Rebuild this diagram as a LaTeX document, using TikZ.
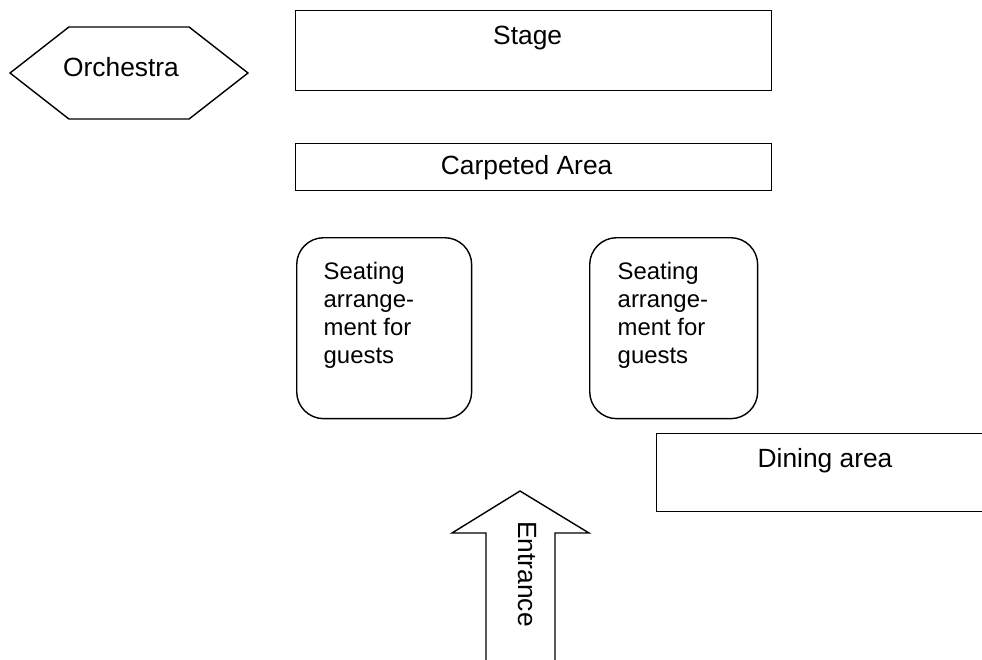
\documentclass[tikz,border=0pt]{standalone}
\usepackage{fontspec}
\setmainfont{Liberation Sans}
\usetikzlibrary{calc,positioning,shapes.symbols}

\begin{document}
\begin{tikzpicture}[x=0.02cm,y=-0.02cm,line width=0.8pt,
  every node/.style={font=\fontsize{15}{16.6}\selectfont}]

\tikzset{room/.style={draw,rectangle,inner sep=0pt},
seating/.style={draw,rectangle,rounded corners=0.54cm,inner sep=0pt,minimum height=3.62cm},
caption/.style={inner sep=0pt,align=left,font=\fontsize{13.6}{16}\selectfont}}

\useasboundingbox (0,0) rectangle (982,659);

% Orchestra
\node[draw,shape=signal,signal to=west and east,signal pointer angle=76,minimum width=4.76cm,minimum height=1.84cm,inner sep=0pt] (orchestra) at (129,73) {};
\node[inner sep=0pt] (orchestraText) at (121,67) {Orchestra};

% Stage and carpet
\node[room,minimum width=9.52cm,minimum height=1.6cm,anchor=north west] (stage) at (295,10) {};
\node[inner sep=0pt] (stageText) at ($(stage.north)+(-6,28)$) {Stage};
\node[room,minimum width=9.52cm,minimum height=0.94cm,anchor=north west] (carpet) at (295,143) {};
\node[inner sep=0pt] (carpetText) at ($(carpet.center)+(-7,0)$) {Carpeted Area};

% Seating
\node[seating,minimum width=3.5cm,anchor=north west] (seat1) at (296,237) {};
\node[seating,minimum width=3.36cm,anchor=north west] (seat2) at (589,237) {};
\node[caption,anchor=north west] (seatText1) at ($(seat1.north west)+(27,24)$) {Seating\\arrange-\\ment for\\guests};
\node[caption,anchor=north west] (seatText2) at ($(seat2.north west)+(28,24)$) {Seating\\arrange-\\ment for\\guests};

% Dining
\node[room,minimum width=6.9cm,minimum height=1.56cm,anchor=north west] (dining) at (656,433) {};
\node[inner sep=0pt] (diningText) at (825,461) {Dining area};

% Entrance arrow
\coordinate (tip) at (520,491);
\coordinate (headL) at (452,533);
\coordinate (headR) at (589,533);
\coordinate (shaftL) at (486,670);
\coordinate (shaftR) at (555,670);
\draw (shaftL) |- (headL) -- (tip) -- (headR) -| (shaftR);
\node[inner sep=0pt,rotate=-90] (entrance) at (527,574) {Entrance};

\end{tikzpicture}
\end{document}
